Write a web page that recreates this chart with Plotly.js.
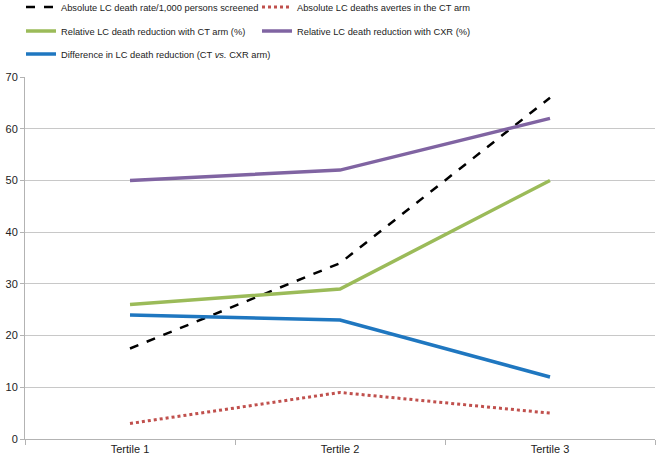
<!DOCTYPE html>
<html>
<head>
<meta charset="utf-8">
<script src="https://cdn.plot.ly/plotly-3.0.1.min.js"></script>
<style>html,body{margin:0;padding:0;background:#fff;}#chart{width:661px;height:461px;}</style>
</head>
<body>
<div id="chart"></div>
<script>
var categories = ["Tertile 1", "Tertile 2", "Tertile 3"];
var absoluteRate = [17.5, 34, 66];
var deathsAverted = [3, 9, 5];
var relativeCT = [26, 29, 50];
var relativeCXR = [50, 52, 62];
var difference = [24, 23, 12];
var seriesNames = [
  "Absolute LC death rate/1,000 persons screened",
  "Absolute LC deaths avertes in the CT arm",
  "Relative LC death reduction with CT arm (%)",
  "Relative LC death reduction with CXR (%)",
  "Difference in LC death reduction (CT <i>vs.</i> CXR arm)"
];
var yTicks = [0, 10, 20, 30, 40, 50, 60, 70];

var traces = [
  {x: categories, y: absoluteRate, name: seriesNames[0], legend: "legend", mode: "lines", line: {color: "#000000", width: 2.5, dash: "dash"}},
  {x: categories, y: deathsAverted, name: seriesNames[1], legend: "legend2", mode: "lines", line: {color: "#c0504d", width: 3, dash: "dot"}},
  {x: categories, y: relativeCT, name: seriesNames[2], legend: "legend3", mode: "lines", line: {color: "#9bbb59", width: 3.5}},
  {x: categories, y: relativeCXR, name: seriesNames[3], legend: "legend4", mode: "lines", line: {color: "#8064a2", width: 3.5}},
  {x: categories, y: difference, name: seriesNames[4], legend: "legend5", mode: "lines", line: {color: "#1f77c0", width: 3.5}}
];

// plot area spans pixels x 25..655, y 77 (top) .. 439 (bottom)
function legendItem(pixelX, pixelY) {
  return {orientation: "h", x: (pixelX - 25) / 630, xanchor: "left", y: (439 - pixelY) / 362, yanchor: "middle",
          font: {family: "Liberation Sans, Arial, sans-serif", size: 9.3, color: "#222"},
          bgcolor: "rgba(0,0,0,0)"};
}

var layout = {
  width: 661, height: 461,
  margin: {l: 25, r: 6, t: 77, b: 22, autoexpand: false},
  paper_bgcolor: "#ffffff", plot_bgcolor: "#ffffff",
  font: {family: "Liberation Sans, Arial, sans-serif", size: 11, color: "#222"},
  showlegend: true,
  legend: legendItem(21, 7),
  legend2: legendItem(257, 7),
  legend3: legendItem(21, 31),
  legend4: legendItem(257, 31),
  legend5: legendItem(21, 54),
  xaxis: {type: "category", range: [-0.5, 2.5], showgrid: false, showline: true, linecolor: "#b3b3b3", linewidth: 1,
          ticks: "outside", tickson: "boundaries", ticklen: 5, tickcolor: "#b3b3b3", tickfont: {size: 11, color: "#222"}, zeroline: false, fixedrange: true},
  yaxis: {range: [0, 70], tickvals: yTicks, showgrid: true, gridcolor: "#c8c8c8", gridwidth: 1, showline: true, linecolor: "#b3b3b3",
          ticks: "outside", ticklen: 4, tickcolor: "#b3b3b3", tickfont: {size: 11, color: "#222"}, zeroline: false, fixedrange: true}
};

Plotly.newPlot("chart", traces, layout, {displayModeBar: false, staticPlot: true});
</script>
</body>
</html>
